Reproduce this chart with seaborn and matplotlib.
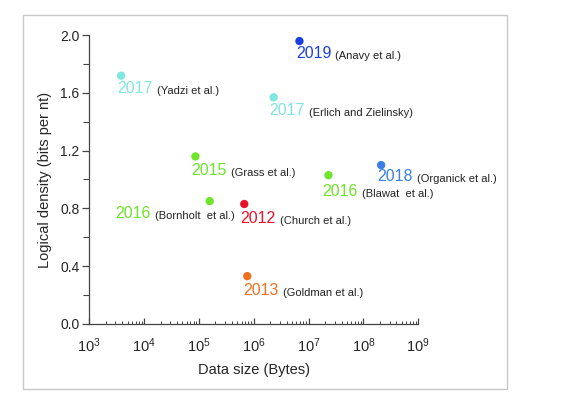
import matplotlib
matplotlib.use("Agg")
import matplotlib.pyplot as plt
import seaborn as sns
import pandas as pd
from matplotlib.patches import Rectangle
from matplotlib.ticker import FixedLocator, MultipleLocator, NullFormatter

years = ["2019", "2017", "2017", "2015", "2018", "2016", "2016", "2012", "2013"]
authors = ["(Anavy et al.)", "(Yadzi et al.)", "(Erlich and Zielinsky)", "(Grass et al.)",
           "(Organick et al.)", "(Blawat  et al.)", "(Bornholt  et al.)", "(Church et al.)",
           "(Goldman et al.)"]
data_size = [6.8e6, 3.8e3, 2.3e6, 8.6e4, 2.1e8, 2.3e7, 1.57e5, 6.7e5, 7.6e5]
density = [1.96, 1.72, 1.57, 1.16, 1.10, 1.03, 0.85, 0.83, 0.33]
colors = ["#1a3fe0", "#80e6e0", "#80e6e0", "#6ee52a", "#3a7ee6", "#6ee52a",
          "#6ee52a", "#e8132b", "#f07020"]
x_exponents = [3, 4, 5, 6, 7, 8, 9]
# label offsets in pixels (dx right, dy down) for the year text start
label_dx = [-3.6, -4, -4, -4, -3.6, -6, -94, -3.6, -3.6]
label_dy = [12.8, 13, 13, 14, 11.7, 16, 12, 14.6, 14]

sns.set_style("ticks")
plt.rcParams['font.family'] = ['Liberation Sans', 'DejaVu Sans']
plt.rcParams['mathtext.fontset'] = 'custom'
plt.rcParams['mathtext.rm'] = 'Liberation Sans'
plt.rcParams['mathtext.it'] = 'Liberation Sans:italic'

df = pd.DataFrame({"size": data_size, "density": density,
                   "key": [f"{y} {a}" for y, a in zip(years, authors)]})

fig = plt.figure(figsize=(5.68, 3.97), dpi=100)
ax = fig.add_axes([89.3/568, 1-323.7/397, (418.3-89.3)/568, (323.7-35.3)/397])

sns.scatterplot(data=df, x="size", y="density", hue="key",
                palette=dict(zip(df["key"], colors)), s=36, edgecolor="none",
                legend=False, ax=ax, zorder=3, clip_on=False)

ax.set_xscale("log")
ax.set_xlim(1e3, 1e9)
ax.set_ylim(0, 2.0)
ax.yaxis.set_major_locator(MultipleLocator(0.4))
ax.yaxis.set_minor_locator(MultipleLocator(0.2))
major = [10.0**e for e in x_exponents]
minor = [m * 10.0**e for e in x_exponents[:-1] for m in range(2, 10)]
ax.xaxis.set_major_locator(FixedLocator(major))
ax.xaxis.set_minor_locator(FixedLocator(minor))
ax.set_xticklabels([f"$10^{{{e}}}$" for e in x_exponents])
ax.xaxis.set_minor_formatter(NullFormatter())
ax.yaxis.set_major_formatter(matplotlib.ticker.FormatStrFormatter("%.1f"))

for s in ["top", "right"]:
    ax.spines[s].set_visible(False)
for s in ["left", "bottom"]:
    ax.spines[s].set_color("#444444")
    ax.spines[s].set_linewidth(0.9)

ax.tick_params(axis="y", which="major", direction="out", length=5, width=0.9,
               color="#444444", labelsize=10, pad=2)
ax.tick_params(axis="y", which="minor", direction="out", length=4, width=0.8, color="#444444")
ax.tick_params(axis="x", which="major", direction="in", length=4, width=0.9,
               color="#444444", labelsize=10.5, pad=9)
ax.tick_params(axis="x", which="minor", direction="in", length=2.5, width=0.7, color="#444444")

ax.set_xlabel("Data size (Bytes)", fontsize=10.5, labelpad=6)
ax.set_ylabel("Logical density (bits per nt)", fontsize=10.5, labelpad=6)

for x, y, yr, au, c, dx, dy in zip(data_size, density, years, authors, colors, label_dx, label_dy):
    t = ax.annotate(yr, xy=(x, y), xytext=(dx*0.72, -dy*0.72), textcoords="offset points",
                    ha="left", va="center", fontsize=11.5, color=c)
    ax.annotate(au, xy=(1, 0.0), xycoords=t, xytext=(3, 0), textcoords="offset points",
                ha="left", va="bottom", fontsize=8, color="#222222")

fig.patches.append(Rectangle((23/568, 1-389/397), 484/568, 374/397,
                             transform=fig.transFigure, fill=False,
                             edgecolor="#c8c8c8", linewidth=1.0))

fig.savefig("out.png", dpi=100)
